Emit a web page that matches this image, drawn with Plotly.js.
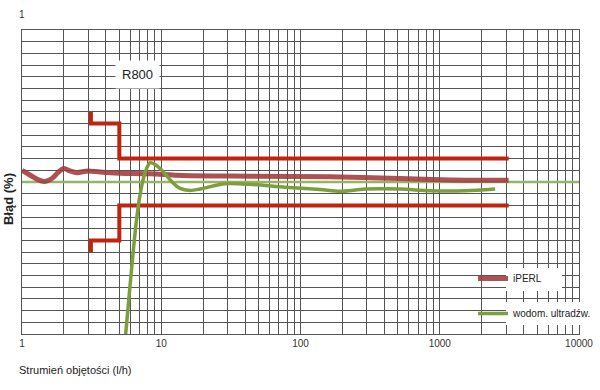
<!DOCTYPE html>
<html>
<head>
<meta charset="utf-8">
<script src="https://cdn.plot.ly/plotly-3.0.1.min.js"></script>
<style>html,body{margin:0;padding:0;background:#fff;overflow:hidden;width:600px;height:390px}#chart{width:600px;height:390px}</style>
</head>
<body>
<div id="chart"></div>
<script>
// iPERL error curve
const iperlFlow = [1, 1.14, 1.30, 1.46, 1.64, 1.81, 2.0, 2.21, 2.48, 2.98, 3.63, 5.06, 8.31, 14.3, 43.4, 163, 519, 1188, 3125];
const iperlErr  = [1.0, 0.6, 0.2, 0.05, 0.3, 0.8, 1.15, 0.95, 0.8, 0.95, 0.85, 0.75, 0.7, 0.55, 0.5, 0.45, 0.3, 0.18, 0.15];
// ultrasonic meter error curve
const ultraFlow = [5.41, 5.77, 6.17, 6.59, 7.04, 7.65, 8.31, 9.03, 10.3, 11.96, 13.65, 16.1, 19.0, 28.7, 43.4, 77.5, 138, 193, 291, 519, 853, 1522, 2500];
const ultraErr  = [-14.5, -10.8, -7.0, -3.6, -1.1, 0.8, 1.65, 1.5, 0.9, 0.0, -0.55, -0.72, -0.6, -0.15, -0.2, -0.45, -0.65, -0.8, -0.6, -0.6, -0.75, -0.75, -0.6];
// R800 maximum permissible error limits
const limitFlow  = [3.125, 3.125, 5, 5, 3125];
const limitUpper = [6, 5, 5, 2, 2];
const limitLower = [-6, -5, -5, -2, -2];
// zero-error reference line
const zeroFlow = [1, 10000];
const zeroErr  = [0, 0];
// axis ticks
const decades = [1, 10, 100, 1000, 10000];
const decadeLabels = ['1', '10', '100', '1000', '10000'];
const yGrid = [-13,-12,-11,-10,-9,-8,-7,-6,-5,-4,-3,-2,-1,0,1,2,3,4,5,6,7,8,9,10,11,12,13];

const xTickVals = [], xTickText = [];
for (let d = 0; d < 4; d++) {
  for (let k = 1; k <= 9; k++) {
    xTickVals.push(k * Math.pow(10, d));
    xTickText.push(k === 1 ? decadeLabels[d] : '');
  }
}
xTickVals.push(decades[4]); xTickText.push(decadeLabels[4]);

const narrow = 'Liberation Sans Narrow, Arial Narrow, Liberation Sans, Arial, sans-serif';
const RED = '#c2230f';

const traces = [
  {x: zeroFlow, y: zeroErr, mode: 'lines', line: {color: '#95b566', width: 2.5}, showlegend: false, hoverinfo: 'skip', cliponaxis: false},
  {x: limitFlow, y: limitUpper, mode: 'lines', line: {color: RED, width: 4}, showlegend: false, hoverinfo: 'skip'},
  {x: limitFlow, y: limitLower, mode: 'lines', line: {color: RED, width: 4}, showlegend: false, hoverinfo: 'skip'},
  {x: iperlFlow, y: iperlErr, mode: 'lines', name: 'iPERL', legendgroup: 'a',
   line: {color: '#a23a3a', width: 5, shape: 'spline', smoothing: 0.8}, opacity: 0.88},
  {x: ultraFlow, y: ultraErr, mode: 'lines', name: 'wodom. ultradźw.', legendgroup: 'b',
   line: {color: '#7b9f3d', width: 3.5, shape: 'spline', smoothing: 0.8}}
];

// helpers: pixel -> paper coordinates (plot area 22..579 x 30..334)
const px = v => (v - 22) / 557;
const py = v => (334 - v) / 304;

const layout = {
  width: 600, height: 390,
  margin: {l: 22, r: 21, t: 30, b: 56, autoexpand: false},
  paper_bgcolor: '#fff', plot_bgcolor: '#fff',
  font: {family: narrow, size: 10, color: '#333'},
  xaxis: {
    type: 'log', range: [0, 4],
    tickvals: xTickVals, ticktext: xTickText,
    showgrid: true, gridcolor: '#555', gridwidth: 1,
    showline: true, linecolor: '#555', linewidth: 1, mirror: true,
    ticks: '', ticklen: 0, tickfont: {family: narrow, size: 10, color: '#333'},
    zeroline: false, fixedrange: true, automargin: false
  },
  yaxis: {
    range: [-13, 13], tickvals: yGrid, showticklabels: false,
    showgrid: true, gridcolor: '#555', gridwidth: 1,
    showline: true, linecolor: '#555', linewidth: 1, mirror: true,
    ticks: '', zeroline: false, fixedrange: true, automargin: false
  },
  shapes: [
    {type: 'rect', xref: 'paper', yref: 'paper', x0: px(506), x1: px(562), y0: py(291), y1: py(268),
     fillcolor: '#fff', line: {width: 0}, layer: 'above'},
    {type: 'rect', xref: 'paper', yref: 'paper', x0: px(506), x1: px(582), y0: py(325), y1: py(302),
     fillcolor: '#fff', line: {width: 0}, layer: 'above'}
  ],
  showlegend: true,
  legend: {
    x: px(473), y: py(264), xanchor: 'left', yanchor: 'top',
    bgcolor: 'rgba(255,255,255,0)', borderwidth: 0,
    font: {family: narrow, size: 10, color: '#222'},
    tracegroupgap: 16, itemwidth: 30
  },
  annotations: [
    {text: '1', xref: 'paper', yref: 'paper', x: 0, y: 1.0526, showarrow: false,
     xanchor: 'center', yanchor: 'middle', font: {family: narrow, size: 10, color: '#333'}},
    {text: 'R800', xref: 'paper', yref: 'paper', x: 0.2065, y: 0.852, showarrow: false,
     xanchor: 'center', yanchor: 'middle', bgcolor: '#fff', borderpad: 6,
     font: {family: narrow, size: 13, color: '#222'}},
    {text: 'Błąd (%)', xref: 'paper', yref: 'paper', x: -0.0251, y: 0.444, showarrow: false,
     textangle: -90, xanchor: 'center', yanchor: 'middle',
     font: {family: 'Liberation Sans, Arial, sans-serif', size: 13, color: '#222', weight: 'bold'}},
    {text: 'Strumień objętości (l/h)', xref: 'paper', yref: 'paper', x: -0.009, y: -0.118, showarrow: false,
     xanchor: 'left', yanchor: 'middle', font: {family: narrow, size: 11, color: '#222'}}
  ]
};

Plotly.newPlot('chart', traces, layout, {displayModeBar: false, staticPlot: true});
</script>
</body>
</html>
